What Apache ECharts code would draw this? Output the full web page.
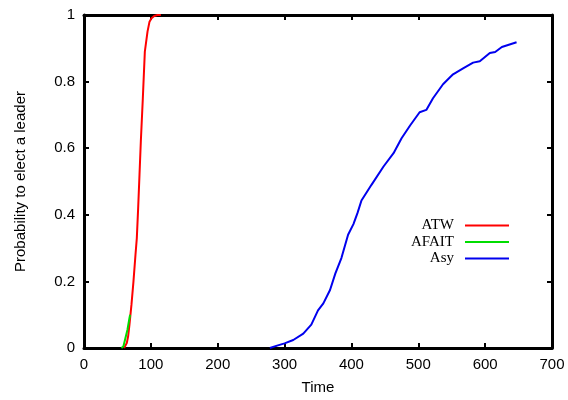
<!DOCTYPE html>
<html>
<head>
<meta charset="utf-8">
<script src="https://cdn.jsdelivr.net/npm/echarts@6/dist/echarts.min.js"></script>
<style>html,body{margin:0;padding:0;background:#fff}#c{width:568px;height:400px}</style>
</head>
<body>
<div id="c"></div>
<script>
var seriesNames = ['ATW', 'AFAIT', 'Asy'];
var atwData = [[60,0],[62,0.002],[64,0.015],[66,0.035],[68,0.07],[71,0.13],[74,0.2],[77,0.28],[79,0.33],[81,0.42],[83,0.52],[85,0.62],[88,0.75],[91,0.89],[95,0.95],[98,0.98],[101,0.99],[105,0.997],[110,1],[115,1]];
var afaitData = [[56,0],[59,0.005],[62,0.03],[65,0.055],[68,0.09],[69,0.1]];
var asyData = [[278,0],[290,0.008],[300,0.014],[313,0.024],[328,0.043],[340,0.07],[350,0.113],[358,0.134],[368,0.174],[376,0.224],[385,0.27],[395,0.34],[403,0.372],[409,0.405],[415,0.443],[430,0.49],[448,0.545],[463,0.585],[475,0.63],[488,0.669],[502,0.708],[512,0.715],[522,0.75],[537,0.792],[552,0.822],[567,0.84],[582,0.857],[592,0.861],[607,0.886],[615,0.889],[625,0.904],[647,0.918]];
var xTitle = 'Time';
var yTitle = 'Probability to elect a leader';
var colors = ['#ff0000', '#00dd00', '#0000ee'];

var chart = echarts.init(document.getElementById('c'));
var sans = 'Liberation Sans';
var serif = 'Liberation Serif';
function axisCommon(extra) {
  var base = {
    axisLine: {show: true, onZero: false, lineStyle: {color: '#000', width: 3}},
    axisTick: {show: true, inside: true, length: 5, lineStyle: {color: '#000', width: 2}},
    splitLine: {show: false}
  };
  for (var k in extra) base[k] = extra[k];
  return base;
}
var legendTops = [218, 234.5, 251];
var legends = seriesNames.map(function (n, i) {
  return {
    data: [n], orient: 'vertical', align: 'right', right: 59, top: legendTops[i], padding: 0,
    icon: 'rect', itemWidth: 44, itemHeight: 2,
    textStyle: {fontFamily: serif, fontSize: 15, color: '#000', padding: [0, 6, 0, 0]},
    selectedMode: false
  };
});
chart.setOption({
  animation: false,
  grid: {left: 84, right: 16, top: 15, bottom: 48, containLabel: false},
  legend: legends,
  xAxis: [
    axisCommon({type: 'value', min: 0, max: 700, interval: 100, position: 'bottom',
      name: xTitle, nameLocation: 'middle', nameGap: 32,
      nameTextStyle: {fontFamily: sans, fontSize: 15, color: '#000'},
      axisLabel: {fontFamily: sans, fontSize: 15, color: '#000', margin: 9}}),
    axisCommon({type: 'value', min: 0, max: 700, interval: 100, position: 'top',
      axisLabel: {show: false}})
  ],
  yAxis: [
    axisCommon({type: 'value', min: 0, max: 1, interval: 0.2, position: 'left',
      name: yTitle, nameLocation: 'middle', nameGap: 56,
      nameTextStyle: {fontFamily: sans, fontSize: 15, color: '#000'},
      axisLabel: {fontFamily: sans, fontSize: 15, color: '#000', margin: 9}}),
    axisCommon({type: 'value', min: 0, max: 1, interval: 0.2, position: 'right',
      axisLabel: {show: false}})
  ],
  series: [
    {name: seriesNames[0], type: 'line', data: atwData, showSymbol: false, symbol: 'none', color: colors[0], lineStyle: {width: 2, color: colors[0]}, z: 2},
    {name: seriesNames[1], type: 'line', data: afaitData, showSymbol: false, symbol: 'none', color: colors[1], lineStyle: {width: 2, color: colors[1]}, z: 3},
    {name: seriesNames[2], type: 'line', data: asyData, showSymbol: false, symbol: 'none', color: colors[2], lineStyle: {width: 2, color: colors[2]}, z: 4}
  ]
});
</script>
</body>
</html>
